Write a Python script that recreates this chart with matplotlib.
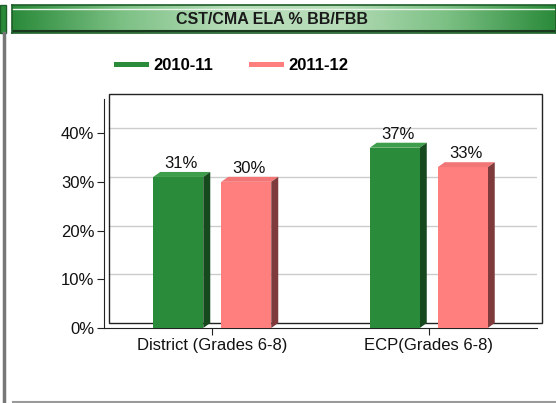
import numpy as np
import matplotlib
matplotlib.use("Agg")
import matplotlib.pyplot as plt
from matplotlib.transforms import offset_copy, IdentityTransform
from matplotlib.colors import LinearSegmentedColormap
from matplotlib.patches import Rectangle, Polygon
from matplotlib.lines import Line2D

plt.rcParams['font.family'] = ['Liberation Sans', 'DejaVu Sans']

title = "CST/CMA ELA % BB/FBB"
categories = ["District (Grades 6-8)", "ECP(Grades 6-8)"]
series_names = ["2010-11", "2011-12"]
values_2010 = [31, 37]
values_2011 = [30, 33]

front = ['#2a8c3b', '#ff7f7f']
topc = ['#3f9e4c', '#f27676']
side = ['#164a1e', '#7f3b3b']

W, H = 556, 403
fig = plt.figure(figsize=(W / 100, H / 100), dpi=100)

# title banner with green gradient
bax = fig.add_axes([12 / W, 1 - 33 / H, 544 / W, 28 / H])
cmap = LinearSegmentedColormap.from_list(
    "ban", ['#2a8a3a', '#7cc084', '#b6dcb8', '#b6dcb8', '#7cc084', '#2a8a3a'])
bax.imshow(np.linspace(0, 1, 256)[None, :], aspect='auto', cmap=cmap,
           extent=[0, 1, 0, 1])
bax.set_xlim(0, 1)
bax.set_ylim(0, 1)
bax.set_xticks([])
bax.set_yticks([])
for s in bax.spines.values():
    s.set_color('#1d5e27')
    s.set_linewidth(1.2)
bax.axhline(0.86, color='#e8f4e8', lw=1)
bax.axhline(0.06, color='#1a3a1f', lw=1.5)
bax.text(0.478, 0.5, title, ha='center', va='center', fontsize=11.5,
         fontweight='bold', color='#1a1a1a')

# neighbouring panel edge and frame lines
fig.add_artist(Rectangle((0, 1 - 33 / H), 6 / W, 28 / H, transform=fig.transFigure,
                         facecolor='#2a8a3a', edgecolor='#1d5e27', lw=1))
fig.add_artist(Line2D([4 / W, 4 / W], [0, 1 - 33 / H], transform=fig.transFigure,
                      color='#777777', lw=2.5))
fig.add_artist(Line2D([13 / W, 1], [1.5 / H, 1.5 / H], transform=fig.transFigure,
                      color='#999999', lw=1.5))

# chart area
ax = fig.add_axes([104 / W, 1 - 328 / H, 433 / W, 229 / H])
x = np.arange(len(categories))
bw = 0.231
off = 0.157
ax.set_xlim(-0.5, 1.5)
ax.set_ylim(0, 47)

back = offset_copy(ax.transData, fig=fig, x=5, y=5, units='dots')
back_axes = offset_copy(ax.transAxes, fig=fig, x=5, y=5, units='dots')
yt = [0, 10, 20, 30, 40]
for v in yt[1:]:
    ax.plot([-0.5, 1.5], [v, v], color='#cccccc', lw=1, transform=back, zorder=0)
ax.add_patch(Rectangle((0, 0), 1, 1, transform=back_axes, fill=False,
                       edgecolor='#222222', lw=1, clip_on=False, zorder=1))

dx, dy = 7, 5  # depth of the 3d bars in pixels
for i, vals in enumerate([values_2010, values_2011]):
    pos = x + (-off if i == 0 else off)
    ax.bar(pos, vals, bw, color=front[i], zorder=4)
    for p, v in zip(pos, vals):
        (x0, y0), (x1, y1) = ax.transData.transform([(p - bw / 2, 0), (p + bw / 2, v)])
        ax.add_patch(Polygon([(x0, y1), (x1, y1), (x1 + dx, y1 + dy), (x0 + dx, y1 + dy)],
                             closed=True, transform=IdentityTransform(),
                             facecolor=topc[i], edgecolor='none', zorder=3, clip_on=False))
        ax.add_patch(Polygon([(x1, y0), (x1 + dx, y0 + dy), (x1 + dx, y1 + dy), (x1, y1)],
                             closed=True, transform=IdentityTransform(),
                             facecolor=side[i], edgecolor='none', zorder=3, clip_on=False))
        ax.annotate(f"{v}%", (p, v), xytext=(3, 6), textcoords='offset pixels',
                    ha='center', va='bottom', fontsize=12, color='#111111')

for s in ['top', 'right']:
    ax.spines[s].set_visible(False)
for s in ['left', 'bottom']:
    ax.spines[s].set_color('#222222')
ax.set_yticks(yt)
ax.set_yticklabels([f"{v}%" for v in yt], fontsize=12, color='#111111')
ax.set_xticks(x)
ax.set_xticklabels(categories, fontsize=12, color='#111111')
ax.tick_params(axis='both', length=5, color='#222222', pad=2)

# legend
handles = [Line2D([], [], color=front[i], lw=3.6) for i in range(2)]
fig.legend(handles, series_names, loc='center left',
           bbox_to_anchor=(116 / W, 1 - 65 / H), ncol=2, frameon=False,
           prop={'weight': 'bold', 'size': 12}, handlelength=1.8,
           columnspacing=2.3, handletextpad=0.42, borderpad=0, borderaxespad=0)

fig.savefig("out.png", dpi=100)
